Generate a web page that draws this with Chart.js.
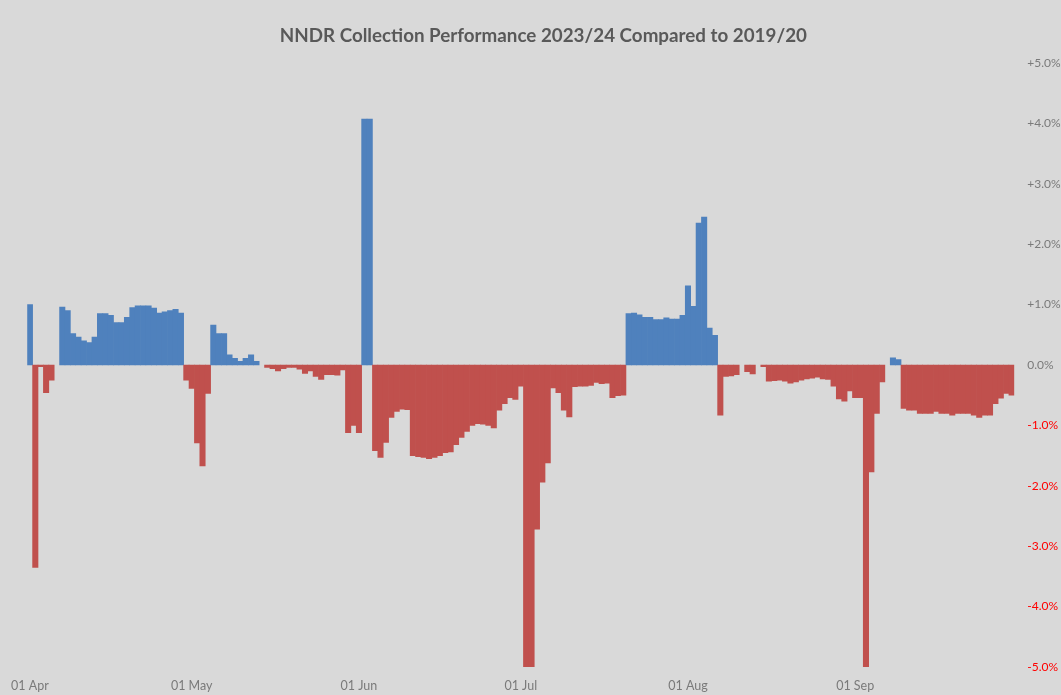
<!DOCTYPE html>
<html>
<head>
<meta charset="utf-8">
<title>NNDR Collection Performance</title>
<script src="https://cdn.jsdelivr.net/npm/chart.js@4.4.1/dist/chart.umd.min.js"></script>
<style>
  html, body { margin: 0; padding: 0; background: #D9D9D9; }
  #wrap { width: 1061px; height: 695px; }
</style>
</head>
<body>
<div id="wrap"><canvas id="chart" width="1061" height="695"></canvas></div>
<script>
// Daily difference in collection rate, 2023/24 vs 2019/20 (percentage points)
const monthNames = ['Apr', 'May', 'Jun', 'Jul', 'Aug', 'Sep'];

const aprValues = [1.00, -3.35, -0.03, -0.46, -0.25, null, 0.96, 0.90, 0.52, 0.46,
  0.40, 0.37, 0.46, 0.85, 0.85, 0.82, 0.70, 0.70, 0.79, 0.95,
  0.98, 0.98, 0.98, 0.94, 0.86, 0.88, 0.90, 0.92, 0.86, -0.25];

const mayValues = [-0.39, -1.29, -1.67, -0.47, 0.66, 0.52, 0.52, 0.17, 0.11, 0.06,
  0.11, 0.17, 0.06, null, -0.04, -0.06, -0.10, -0.06, -0.04, -0.04,
  -0.07, -0.14, -0.10, -0.19, -0.24, -0.16, -0.16, -0.17, -0.08, -1.12, -1.00];

const junValues = [-1.12, 4.07, 4.07, -1.42, -1.53, -1.28, -0.87, -0.77, -0.73, -0.74,
  -1.50, -1.52, -1.53, -1.55, -1.53, -1.50, -1.45, -1.44, -1.32, -1.20,
  -1.10, -1.00, -0.97, -0.98, -1.00, -1.04, -0.75, -0.64, -0.54, -0.57];

const julValues = [-0.35, -5.00, -5.00, -2.72, -1.94, -1.62, -0.38, -0.46, -0.75, -0.86,
  -0.36, -0.35, -0.35, -0.34, -0.29, -0.31, -0.30, -0.54, -0.51, -0.50,
  0.85, 0.86, 0.83, 0.79, 0.79, 0.75, 0.75, 0.78, 0.76, 0.76, 0.82];

const augValues = [1.31, 0.97, 2.35, 2.45, 0.61, 0.49, -0.83, -0.19, -0.18, -0.16,
  null, -0.11, -0.15, null, -0.03, -0.27, -0.26, -0.25, -0.27, -0.30,
  -0.28, -0.25, -0.23, -0.22, -0.20, -0.23, -0.24, -0.35, -0.56, -0.60, -0.43];

const sepValues = [-0.54, -0.54, -5.00, -1.77, -0.80, -0.28, null, 0.12, 0.09, -0.72,
  -0.75, -0.75, -0.80, -0.80, -0.80, -0.77, -0.80, -0.80, -0.83, -0.80,
  -0.80, -0.80, -0.83, -0.87, -0.83, -0.83, -0.64, -0.55, -0.47, -0.50];

const yTicks = [-5, -4, -3, -2, -1, 0, 1, 2, 3, 4, 5];

// Build the day-by-day category list ("01 Apr", "02 Apr", ...) and the value series
const monthValues = [aprValues, mayValues, junValues, julValues, augValues, sepValues];
const labels = [];
const values = [];
monthValues.forEach((arr, m) => {
  arr.forEach((v, d) => {
    labels.push(String(d + 1).padStart(2, '0') + ' ' + monthNames[m]);
    values.push(v);
  });
});

const BLUE = '#4F81BD';
const RED = '#C0504D';
const GREY_TEXT = '#7A7A7A';

new Chart(document.getElementById('chart'), {
  type: 'bar',
  data: {
    labels: labels,
    datasets: [{
      data: values,
      backgroundColor: values.map(v => (v !== null && v < 0) ? RED : BLUE),
      borderWidth: 0,
      barPercentage: 1.0,
      categoryPercentage: 1.0
    }]
  },
  options: {
    responsive: false,
    animation: false,
    layout: { padding: { left: 25.7, right: 0, top: 0, bottom: 0 } },
    plugins: {
      legend: { display: false },
      tooltip: { enabled: false },
      title: {
        display: true,
        text: 'NNDR Collection Performance 2023/24 Compared to 2019/20',
        color: '#595959',
        font: { family: 'Lato', size: 18.8, weight: 'bold', lineHeight: 1.2 },
        padding: { top: 24.5, bottom: 15.9 }
      }
    },
    scales: {
      x: {
        grid: { display: false, drawTicks: false },
        border: { display: false },
        ticks: {
          autoSkip: false,
          maxRotation: 0,
          minRotation: 0,
          padding: 11,
          color: GREY_TEXT,
          font: { family: 'Lato', size: 12.5 },
          callback: function (value) {
            const lab = this.getLabelForValue(value);
            return lab.startsWith('01 ') ? lab : null;
          }
        },
        afterFit: s => { s.height = 28; }
      },
      y: {
        position: 'right',
        min: yTicks[0],
        max: yTicks[yTicks.length - 1],
        grid: { display: false, drawTicks: false },
        border: { display: false },
        afterBuildTicks: s => { s.ticks = yTicks.map(v => ({ value: v })); },
        afterFit: s => { s.width = 46.7; },
        ticks: {
          padding: 13,
          font: { family: 'Lato', size: 12 },
          color: ctx => ctx.tick.value < 0 ? '#FF0000' : GREY_TEXT,
          callback: v => (v > 0 ? '+' : '') + v.toFixed(1) + '%'
        }
      }
    }
  }
});
</script>
</body>
</html>
